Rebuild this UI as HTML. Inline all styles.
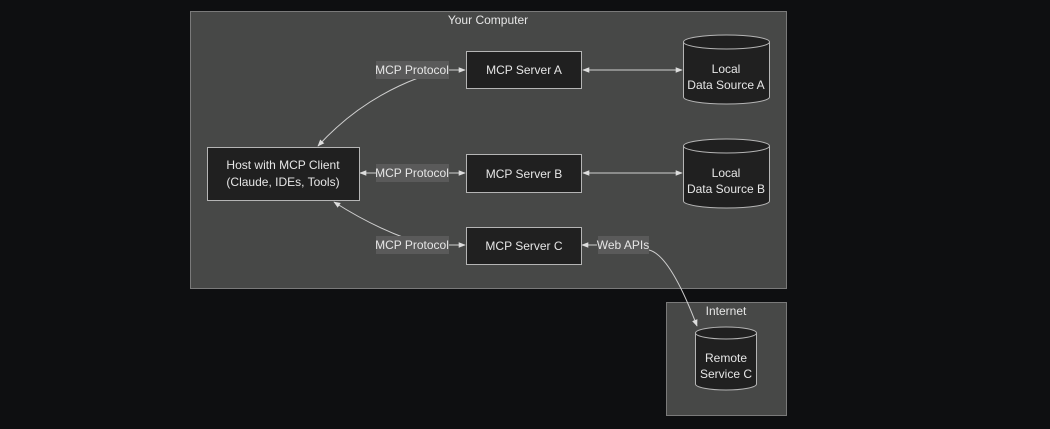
<!DOCTYPE html>
<html><head><style>
html,body{margin:0;padding:0;background:#0e0f11;width:1050px;height:429px;overflow:hidden}
svg text{font-family:"Liberation Sans",sans-serif;fill:#e6e6e6;font-size:12px}
</style></head><body>
<svg width="1050" height="429" viewBox="0 0 1050 429">
<defs>
<marker id="a" viewBox="0 0 10 10" refX="9" refY="5" markerWidth="7" markerHeight="7" orient="auto-start-reverse"><path d="M0,1 L10,5 L0,9 z" fill="#ddd"/></marker>
</defs>
<rect x="190.5" y="11.5" width="596" height="277" fill="#474847" stroke="#7a7a7a"/>
<text x="488" y="24" text-anchor="middle">Your Computer</text>
<rect x="666.5" y="302.5" width="120" height="113" fill="#474847" stroke="#7a7a7a"/>
<text x="726" y="315" text-anchor="middle">Internet</text>

<g stroke="#cfcfcf" fill="none" stroke-width="1">
<path d="M449,70 L465,70" marker-end="url(#a)"/>
<path d="M449,173 L465,173" marker-end="url(#a)"/>
<path d="M449,245 L465,245" marker-end="url(#a)"/>
<path d="M376,173 L360,173" marker-end="url(#a)"/>
<path d="M418,78 Q360,100 318,146" marker-end="url(#a)"/>
<path d="M405,238 Q370,225 334,202" marker-end="url(#a)"/>
<path d="M583,70 L682,70" marker-start="url(#a)" marker-end="url(#a)"/>
<path d="M583,173 L682,173" marker-start="url(#a)" marker-end="url(#a)"/>
<path d="M597,245 L582,245" marker-end="url(#a)"/>
<path d="M649,250 Q670,255 697,326" marker-end="url(#a)"/>
</g>

<g fill="#5a5a5a">
<rect x="376" y="61" width="73" height="18"/>
<rect x="376" y="164" width="73" height="18"/>
<rect x="376" y="236" width="73" height="18"/>
<rect x="598" y="236" width="51" height="18"/>
</g>
<text x="412" y="74" text-anchor="middle">MCP Protocol</text>
<text x="412" y="177" text-anchor="middle">MCP Protocol</text>
<text x="412" y="249" text-anchor="middle">MCP Protocol</text>
<text x="623" y="249" text-anchor="middle">Web APIs</text>

<g fill="#202020" stroke="#b5b5b5">
<rect x="207.5" y="147.5" width="152" height="53"/>
<rect x="466.5" y="51.5" width="115" height="37"/>
<rect x="466.5" y="154.5" width="115" height="38"/>
<rect x="466.5" y="227.5" width="115" height="37"/>
</g>
<text x="283" y="169" text-anchor="middle">Host with MCP Client</text>
<text x="283" y="186" text-anchor="middle">(Claude, IDEs, Tools)</text>
<text x="524" y="74" text-anchor="middle">MCP Server A</text>
<text x="524" y="178" text-anchor="middle">MCP Server B</text>
<text x="524" y="250" text-anchor="middle">MCP Server C</text>

<g fill="#202020" stroke="#b5b5b5">
<path d="M683.5,42 L683.5,97 A43,7 0 0 0 769.5,97 L769.5,42 A43,7 0 0 0 683.5,42 A43,7 0 0 0 769.5,42"/>
<path d="M683.5,146 L683.5,201 A43,7 0 0 0 769.5,201 L769.5,146 A43,7 0 0 0 683.5,146 A43,7 0 0 0 769.5,146"/>
<path d="M695.5,333 L695.5,384 A30.5,6 0 0 0 756.5,384 L756.5,333 A30.5,6 0 0 0 695.5,333 A30.5,6 0 0 0 756.5,333"/>
</g>
<text x="726" y="73" text-anchor="middle">Local</text>
<text x="726" y="89" text-anchor="middle">Data Source A</text>
<text x="726" y="177" text-anchor="middle">Local</text>
<text x="726" y="193" text-anchor="middle">Data Source B</text>
<text x="726" y="362" text-anchor="middle">Remote</text>
<text x="726" y="378" text-anchor="middle">Service C</text>
</svg>
</body></html>
